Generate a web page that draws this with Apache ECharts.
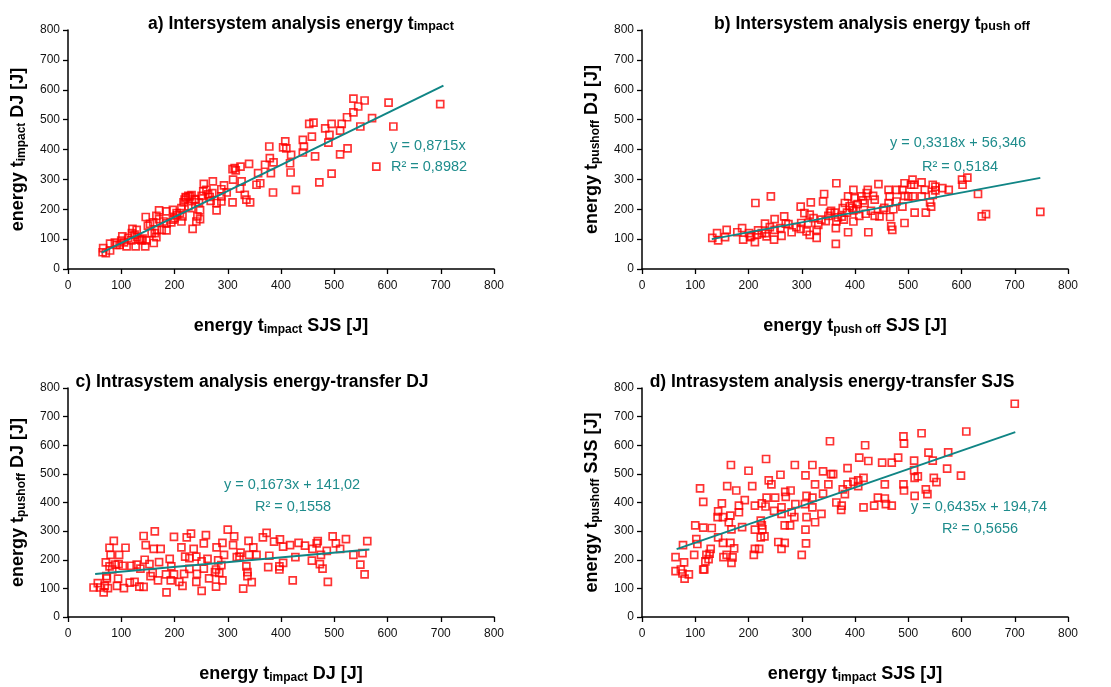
<!DOCTYPE html>
<html><head><meta charset="utf-8">
<script src="https://cdn.jsdelivr.net/npm/echarts@6/dist/echarts.min.js"></script>
<style>html,body{margin:0;padding:0;background:#fff}#c{width:1111px;height:687px}</style>
</head><body><div id="c"></div>
<script>
// ---------- data ----------
const axisMin = 0, axisMax = 800, axisStep = 100;

const panelA = [[699,552],[602,557],[611,477],[579,343],[536,570],[557,564],[545,544],[536,524],[524,508],[571,505],[549,477],[514,486],[511,463],[511,384],[525,404],[495,486],[483,471],[491,449],[489,423],[495,319],[472,290],[464,377],[461,490],[453,486],[458,443],[441,432],[443,410],[441,390],[428,265],[419,382],[417,354],[418,323],[408,427],[410,404],[404,407],[385,256],[386,357],[378,410],[379,371],[381,321],[370,349],[357,321],[361,287],[354,282],[340,352],[342,223],[335,232],[324,343],[326,293],[323,269],[332,248],[313,338],[309,334],[310,299],[309,223],[298,256],[288,267],[288,243],[288,226],[279,196],[279,221],[272,293],[271,254],[266,241],[260,265],[255,285],[254,260],[251,245],[246,223],[248,196],[243,176],[241,159],[248,167],[234,134],[238,234],[229,243],[221,241],[217,223],[213,204],[210,187],[215,176],[226,210],[232,204],[213,159],[204,187],[197,165],[194,156],[185,193],[185,129],[179,159],[171,196],[171,167],[167,131],[163,120],[166,107],[161,87],[166,178],[160,156],[154,151],[150,145],[146,174],[147,96],[145,76],[129,131],[121,134],[125,115],[130,107],[135,98],[127,76],[113,104],[110,76],[102,109],[105,89],[97,81],[79,85],[79,62],[66,70],[65,56],[71,53],[91,81],[119,96],[138,96],[157,120],[176,131],[197,198],[185,153],[222,238],[226,245],[232,247],[219,232],[240,232],[205,180],[200,170],[263,250],[268,228],[293,280],[315,330],[120,120],[140,102],[88,88],[100,95]];

const panelB = [[748,191],[646,184],[638,176],[631,251],[611,306],[601,299],[602,282],[576,265],[564,271],[551,276],[546,282],[551,263],[541,223],[543,209],[533,189],[525,290],[525,243],[531,265],[508,299],[505,282],[511,282],[509,243],[512,189],[500,243],[493,287],[489,265],[493,245],[489,209],[493,154],[478,265],[478,226],[472,200],[463,265],[465,243],[463,221],[466,174],[468,143],[470,131],[444,284],[453,198],[446,176],[437,178],[437,232],[434,245],[424,265],[422,254],[418,221],[425,123],[412,243],[408,178],[405,217],[397,265],[399,237],[397,196],[397,159],[387,243],[387,123],[381,221],[377,204],[385,189],[379,165],[365,287],[362,189],[365,159],[364,137],[364,84],[368,173],[353,189],[350,178],[342,251],[340,226],[337,165],[331,148],[328,104],[328,131],[317,223],[315,182],[312,154],[305,187],[298,209],[299,154],[298,134],[309,126],[315,114],[281,123],[267,176],[270,152],[260,137],[262,111],[249,167],[249,131],[248,98],[242,243],[231,152],[232,120],[234,109],[218,129],[213,221],[212,90],[216,115],[203,107],[201,120],[188,137],[190,98],[179,123],[159,131],[156,107],[143,96],[141,120],[132,104],[546,248],[390,210],[395,205],[402,200],[415,230],[430,195],[455,205],[420,185],[375,175],[355,195],[345,160],[322,170],[290,140],[275,150],[240,140],[225,120],[205,110]];

const panelC = [[562,265],[557,149],[549,183],[553,223],[536,217],[522,272],[511,238],[503,257],[497,282],[488,123],[486,231],[478,169],[473,185],[475,217],[469,265],[467,257],[459,238],[458,197],[445,249],[433,259],[427,209],[422,128],[417,251],[404,246],[404,189],[398,271],[397,177],[397,166],[387,263],[378,214],[376,174],[373,294],[366,278],[354,217],[348,243],[345,122],[340,217],[339,266],[337,157],[337,143],[335,177],[329,99],[324,225],[322,211],[317,209],[310,251],[312,282],[300,305],[290,128],[293,217],[290,259],[288,181],[284,154],[282,198],[279,243],[278,166],[276,157],[278,106],[265,135],[262,203],[259,286],[255,257],[255,169],[251,91],[251,194],[241,211],[242,151],[241,123],[236,238],[231,291],[228,206],[228,168],[223,278],[220,211],[218,151],[215,109],[213,243],[209,123],[199,280],[199,149],[193,128],[191,203],[194,177],[185,86],[184,149],[174,238],[171,192],[169,128],[163,299],[161,238],[159,154],[155,143],[153,185],[146,251],[142,283],[144,200],[142,105],[134,106],[136,169],[129,183],[125,123],[119,179],[116,120],[108,242],[103,179],[105,101],[96,217],[95,185],[94,134],[92,109],[86,266],[88,183],[83,166],[78,242],[80,217],[78,177],[72,143],[71,191],[69,109],[67,86],[56,118],[48,103],[60,103],[75,101],[73,135]];

const panelD = [[700,745],[609,648],[525,642],[491,631],[492,606],[481,557],[469,539],[451,539],[425,545],[408,557],[419,600],[353,614],[575,575],[573,518],[599,494],[538,574],[546,546],[548,486],[553,471],[511,546],[511,513],[518,491],[512,486],[512,423],[533,446],[536,429],[491,463],[492,442],[469,389],[458,394],[456,463],[456,414],[443,417],[436,389],[416,486],[416,383],[406,457],[406,477],[397,472],[386,520],[386,463],[377,446],[381,429],[375,389],[374,374],[365,400],[359,499],[355,499],[350,463],[340,509],[340,431],[337,360],[325,331],[320,531],[325,463],[320,417],[320,383],[309,349],[307,495],[309,423],[306,394],[307,305],[308,257],[300,217],[287,531],[288,394],[286,349],[281,366],[278,320],[268,320],[268,259],[279,442],[269,437],[270,420],[260,497],[262,383],[262,360],[262,238],[256,262],[250,417],[248,371],[243,463],[238,477],[234,417],[232,386],[230,282],[233,552],[225,397],[223,337],[225,320],[226,306],[223,278],[220,238],[212,389],[212,305],[212,238],[210,217],[207,457],[200,511],[193,408],[188,314],[182,389],[182,366],[177,442],[173,240],[170,208],[168,189],[168,306],[167,531],[166,354],[163,331],[166,259],[160,457],[159,217],[153,209],[152,349],[152,259],[150,397],[143,369],[142,349],[143,278],[131,311],[129,238],[127,221],[125,202],[121,217],[119,194],[117,166],[115,402],[115,312],[109,449],[104,255],[102,272],[100,320],[98,217],[88,149],[79,191],[77,251],[76,152],[80,134],[73,166],[63,209],[63,160],[115,166]];

// regression lines (end points as drawn in the figure)
const trendA = [[63,55],[705,614]];
const trendB = [[131,100],[748,305]];
const trendC = [[51,150],[566,236]];
const trendD = [[65,237],[701,646]];

const titles = ['a) Intersystem analysis energy t{s|impact}','b) Intersystem analysis energy t{s|push off}','c) Intrasystem analysis energy-transfer DJ','d) Intrasystem analysis energy-transfer SJS'];
const xNames = ['energy t{s|impact} SJS [J]','energy t{s|push off} SJS [J]','energy t{s|impact} DJ [J]','energy t{s|impact} SJS [J]'];
const yNames = ['energy t{s|impact} DJ [J]','energy t{s|pushoff} DJ [J]','energy t{s|pushoff} DJ [J]','energy t{s|pushoff} SJS [J]'];
const eqLine1 = ['y = 0,8715x','y = 0,3318x + 56,346','y = 0,1673x + 141,02','y = 0,6435x + 194,74'];
const eqLine2 = ['R² = 0,8982','R² = 0,5184','R² = 0,1558','R² = 0,5656'];

// ---------- layout / style ----------
const FONT = '"Liberation Sans", Arial, sans-serif';
const grids = [
  {left:68, top:30, width:426, height:239},
  {left:642, top:30, width:426, height:239},
  {left:68, top:388, width:426, height:234},
  {left:642, top:388, width:426, height:234}
];
const titlePos = [[301,24],[872,24],[252,382],[832,382]];
const eqPos = [[428,146,429,167],[958,143,960,167],[292,485,293,507],[979,507,980,529]];
const TEAL_LINE = '#108585';
const TEAL_TEXT = '#1e8c8c';

function nameStyle(){
  return {color:'#000', fontFamily:FONT, fontWeight:'bold', fontSize:18, lineHeight:24,
    rich:{s:{fontFamily:FONT, fontWeight:'bold', fontSize:12, lineHeight:12, padding:[7,0,0,0], color:'#000'}}};
}
function axisCommon(){
  return {type:'value', min:axisMin, max:axisMax, interval:axisStep,
    axisLine:{show:true, onZero:false, lineStyle:{color:'#000', width:1.5}},
    axisTick:{show:true, length:5, lineStyle:{color:'#000', width:1.3}},
    splitLine:{show:false},
    axisLabel:{color:'#111', fontFamily:FONT, fontSize:12}};
}
const xAxes = [], yAxes = [], series = [], graphics = [];
const panels = [panelA, panelB, panelC, panelD];
const trends = [trendA, trendB, trendC, trendD];
for (let i=0;i<4;i++){
  const xa = axisCommon();
  Object.assign(xa, {gridIndex:i, name:xNames[i], nameLocation:'middle', nameGap:45, nameTextStyle:nameStyle()});
  xa.axisLabel.margin = 11;
  xAxes.push(xa);
  const ya = axisCommon();
  Object.assign(ya, {gridIndex:i, name:yNames[i], nameLocation:'middle', nameGap:38, nameRotate:90, nameTextStyle:nameStyle()});
  ya.axisLabel.margin = 8;
  yAxes.push(ya);
  series.push({type:'scatter', xAxisIndex:i, yAxisIndex:i, data:panels[i], symbol:'rect', symbolSize:7,
    itemStyle:{color:'rgba(255,255,255,0)', borderColor:'#ff0000', borderWidth:1.7}, silent:true, z:2});
  series.push({type:'line', xAxisIndex:i, yAxisIndex:i, data:trends[i], symbol:'none',
    lineStyle:{color:TEAL_LINE, width:2}, silent:true, z:3});
  graphics.push({type:'text', x:titlePos[i][0], y:titlePos[i][1], style:{text:titles[i], align:'center', verticalAlign:'middle',
    fontFamily:FONT, fontWeight:'bold', fontSize:17.5, lineHeight:22, fill:'#000',
    rich:{s:{fontFamily:FONT, fontWeight:'bold', fontSize:12.5, lineHeight:12, padding:[6,0,0,0], fill:'#000'}}}});
  graphics.push({type:'text', x:eqPos[i][0], y:eqPos[i][1], style:{text:eqLine1[i], align:'center', verticalAlign:'middle', fontFamily:FONT, fontSize:14.5, fill:TEAL_TEXT}});
  graphics.push({type:'text', x:eqPos[i][2], y:eqPos[i][3], style:{text:eqLine2[i], align:'center', verticalAlign:'middle', fontFamily:FONT, fontSize:14.5, fill:TEAL_TEXT}});
}
const chart = echarts.init(document.getElementById('c'), null, {renderer:'canvas'});
chart.setOption({animation:false, backgroundColor:'#fff', grid:grids, xAxis:xAxes, yAxis:yAxes, series:series, graphic:graphics});
</script></body></html>
